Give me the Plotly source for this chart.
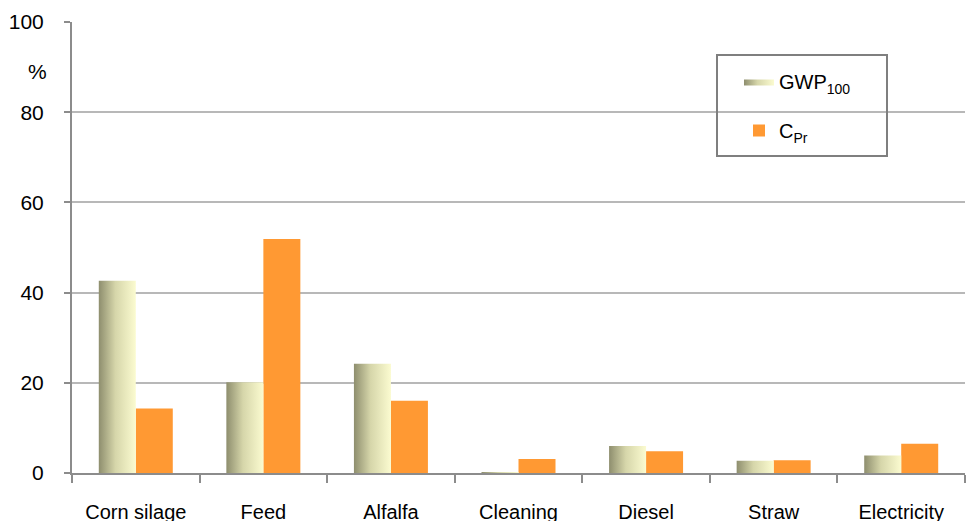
import plotly.graph_objects as go

categories = ["Corn silage", "Feed", "Alfalfa", "Cleaning", "Diesel", "Straw", "Electricity"]
gwp100 = [42.6, 20.1, 24.2, 0.2, 6.0, 2.7, 3.9]
c_pr = [14.3, 51.9, 16.0, 3.1, 4.8, 2.8, 6.5]
y_ticks = [0, 20, 40, 60, 80, 100]

BAR_W = 0.29
AXIS_GREY = "#8c8c8c"
GRID_GREY = "#b8b8b8"
ORANGE = "#FF9933"
GRADIENT = [[0.0, "#8e8e6e"], [0.45, "#d6d6aa"], [1.0, "#fbfbd0"]]

idx = list(range(len(categories)))
fig = go.Figure()

# GWP100 bars: filled polygons so each can carry a left-to-right gradient
for i, v in zip(idx, gwp100):
    x0, x1 = i - BAR_W, i
    fig.add_trace(go.Scatter(
        x=[x0, x0, x1, x1, x0], y=[0, v, v, 0, 0],
        mode="lines", fill="toself",
        fillgradient=dict(type="horizontal", colorscale=GRADIENT),
        line=dict(width=0, color="rgba(0,0,0,0)"),
        name="GWP<sub>100</sub>", legendgroup="gwp", showlegend=(i == 0),
        hoverinfo="skip",
    ))

# C_Pr bars
fig.add_trace(go.Bar(
    x=idx, y=c_pr, width=BAR_W, offset=0,
    marker=dict(color=ORANGE, line=dict(width=0)),
    name="C<sub>Pr</sub>", legendgroup="cpr",
))

# legend frame
fig.add_shape(type="rect", xref="paper", yref="paper",
              x0=(717 - 72) / 893, x1=(887 - 72) / 893,
              y0=(473 - 156) / 451, y1=(473 - 55) / 451,
              line=dict(color="#7f7f7f", width=2), fillcolor="rgba(0,0,0,0)")

fig.add_annotation(text="%", xref="paper", x=0, xshift=-35, xanchor="center",
                   yref="y", y=89, showarrow=False,
                   font=dict(family="Liberation Sans", size=21, color="#000000"))

fig.update_layout(
    width=971, height=521,
    margin=dict(l=72, r=6, t=22, b=48),
    paper_bgcolor="white", plot_bgcolor="white",
    barmode="overlay",
    showlegend=True,
    legend=dict(x=(739 - 72) / 893, xanchor="left", y=(473 - 62) / 451, yanchor="top",
                bgcolor="rgba(0,0,0,0)", borderwidth=0,
                font=dict(family="Liberation Sans", size=20, color="#000000"),
                tracegroupgap=20, itemwidth=30),
    xaxis=dict(
        range=[-0.5, 6.5], tickmode="array", tickvals=idx, ticktext=categories,
        ticks="", showgrid=False, zeroline=False, automargin=False,
        showline=True, linecolor=AXIS_GREY, linewidth=2,
        ticklabelstandoff=20,
        tickfont=dict(family="Liberation Sans", size=20, color="#000000"),
        minor=dict(tickmode="array", tickvals=[k - 0.5 for k in range(len(categories) + 1)],
                   ticks="outside", ticklen=8, tickwidth=2, tickcolor=AXIS_GREY, showgrid=False),
    ),
    yaxis=dict(
        range=[0, 100], tickmode="array", tickvals=y_ticks, automargin=False,
        ticks="outside", ticklen=6, tickwidth=2, tickcolor=AXIS_GREY,
        showgrid=True, gridcolor=GRID_GREY, gridwidth=1.5,
        zeroline=False, showline=True, linecolor=AXIS_GREY, linewidth=2,
        ticklabelstandoff=16,
        tickfont=dict(family="Liberation Sans", size=21, color="#000000"),
    ),
)

fig.write_html("out.html")
